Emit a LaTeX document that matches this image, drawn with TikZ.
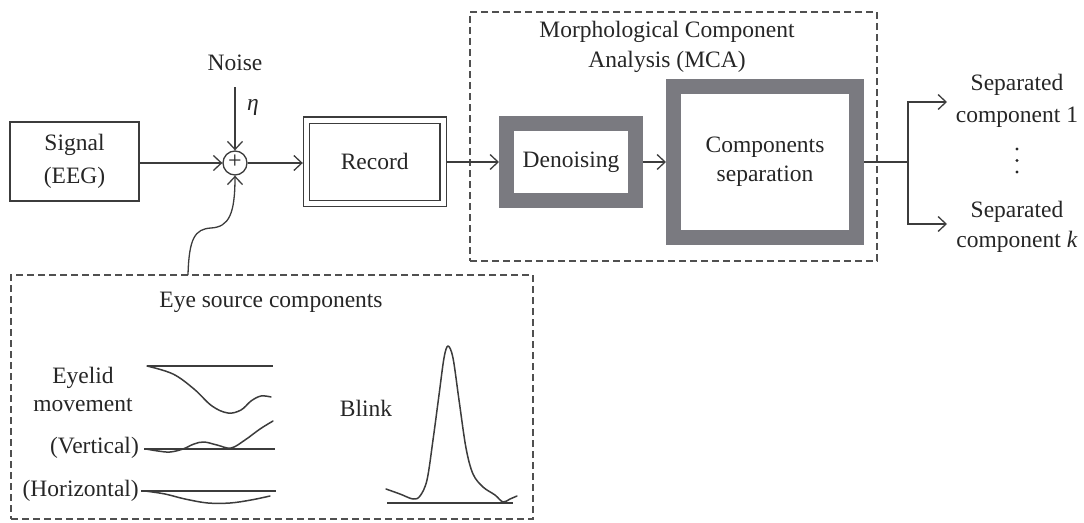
\documentclass[tikz,border=0pt]{standalone}
\usepackage{fontspec}
\setmainfont{Liberation Serif}
\usetikzlibrary{arrows.meta}
\definecolor{ink}{HTML}{262626}
\definecolor{linec}{HTML}{3C3C3C}
\definecolor{boxgray}{HTML}{7A7A80}
\definecolor{dashc}{HTML}{505050}
\begin{document}
\begin{tikzpicture}[x=1pt,y=-1pt,
 txt/.style={text=ink, font=\fontsize{23.5}{29}\selectfont, align=center, inner sep=0pt},
 arr/.style={draw=linec, line width=1.3pt, -{Straight Barb[length=8pt,width=15pt,line width=1.3pt]}},
 conn/.style={draw=linec, line width=1.3pt},
 plainbox/.style={draw=linec, line width=1.3pt, rectangle, inner sep=0pt, text=ink, align=center},
 thickbox/.style={draw=boxgray, line width=15pt, rectangle, inner sep=0pt, text=ink, align=center},
 dashbox/.style={draw=dashc, line width=1.2pt, dash pattern=on 7pt off 4pt, rectangle, inner sep=0pt},
 wave/.style={draw=linec, line width=1.5pt, line join=round, line cap=round},
 base/.style={draw=linec, line width=1.2pt},
]
\useasboundingbox (0,0) rectangle (1084,522);

% dashed group boxes
\node[dashbox, minimum width=407pt, minimum height=249pt] (mcabox) at (673.5,136.5) {};
\node[dashbox, minimum width=522pt, minimum height=244pt] (eyebox) at (272,397) {};

% main chain
\node[plainbox, minimum width=129pt, minimum height=79pt, font=\fontsize{23.5}{33}\selectfont] (signal) at (74.5,161.5) {Signal\\(EEG)};
\node[circle, draw=linec, line width=1.3pt, minimum size=24pt, inner sep=0pt, text=ink, font=\fontsize{26}{26}\selectfont] (sum) at (235,163) {};
\node[text=ink, font=\fontsize{24}{24}\selectfont, inner sep=0pt] (plus) at (235,162) {+};
\node[txt] (noise) at (235,63) {Noise};
\node[txt] (eta) at (253,107) {\textit{η}};
\node[plainbox, double=white, double distance=5pt, line width=1.2pt, outer sep=3.7pt, minimum width=136.5pt, minimum height=83.5pt, font=\fontsize{23.5}{29}\selectfont] (record) at (374.75,161.75) {Record};

\node[txt, font=\fontsize{23.5}{30}\selectfont] (mcatitle) at (667,47) {Morphological Component\\Analysis (MCA)};
\node[thickbox, minimum width=129pt, minimum height=77pt, font=\fontsize{23.5}{29}\selectfont] (denoise) at (571,162) {Denoising};
\node[thickbox, minimum width=183pt, minimum height=151pt, font=\fontsize{23.5}{29}\selectfont] (compsep) at (765,162) {Components\\separation};

\node[txt, font=\fontsize{23.5}{32}\selectfont] (out1) at (1017,101) {Separated\\component 1};
\node[txt, font=\fontsize{23.5}{30}\selectfont] (outk) at (1017,227) {Separated\\component \textit{k}};
\fill[ink] (1017,149) circle (1.7) (1017,160.5) circle (1.7) (1017,172) circle (1.7);

% connectors
\coordinate (noisebot) at (235,87);
\coordinate (eyeout) at (188,275);
\coordinate (br) at (908,162);
\coordinate (o1) at (947,102);
\coordinate (ok) at (947,224);

\draw[arr] (noisebot) -- (sum.north);
\draw[arr] (signal.east |- sum.west) -- (sum.west);
\draw[arr] (sum.east) -- (record.west |- sum.east);
\draw[arr] (record.east |- denoise.west) -- (denoise.west);
\draw[arr] (denoise.east) -- (compsep.west |- denoise.east);
\draw[conn] (compsep.east) -- (br);
\draw[arr] (br) |- (o1);
\draw[arr] (br) |- (ok);
\draw[arr] (eyeout) .. controls (189,238) and (195,229) .. (211,228) .. controls (229,227) and (235,214) .. (sum.south);

% eye source components
\node[txt] (eyetitle) at (271,302) {Eye source components};
\node[txt, font=\fontsize{23.5}{28}\selectfont] (eyelid) at (83,389) {Eyelid\\movement};
\node[txt, anchor=east] (vert) at (139,448) {(Vertical)};
\node[txt, anchor=east] (horiz) at (139,491) {(Horizontal)};
\node[txt] (blink) at (366,408) {Blink};

% baselines
\draw[base] (147,366) -- (273,366);
\draw[base] (144,449) -- (275,449);
\draw[base] (141,491) -- (276,491);
\draw[base] (387,503) -- (513,503);

% waveforms
\draw[wave] plot[smooth, tension=0.6] coordinates {(147,366) (173,374) (194,389) (212,406) (228,413) (241,410) (251,401) (261,396) (271,397)};
\draw[wave] plot[smooth, tension=0.6] coordinates {(146,449) (158,451) (170,452) (183,449) (194,444) (204,442) (217,445) (231,448) (245,440) (260,429) (273,421)};
\draw[wave] plot[smooth, tension=0.6] coordinates {(145,491) (165,494) (185,499) (208,503) (230,503) (251,500) (270,496)};
\draw[wave] plot[smooth, tension=0.55] coordinates {(386,489) (400,494) (413,499) (420,496) (427,480) (433,440) (439,395) (444,358) (448,346) (453,358) (459,400) (466,448) (473,474) (483,487) (495,495) (503,502) (510,499) (517,496)};
\end{tikzpicture}
\end{document}
